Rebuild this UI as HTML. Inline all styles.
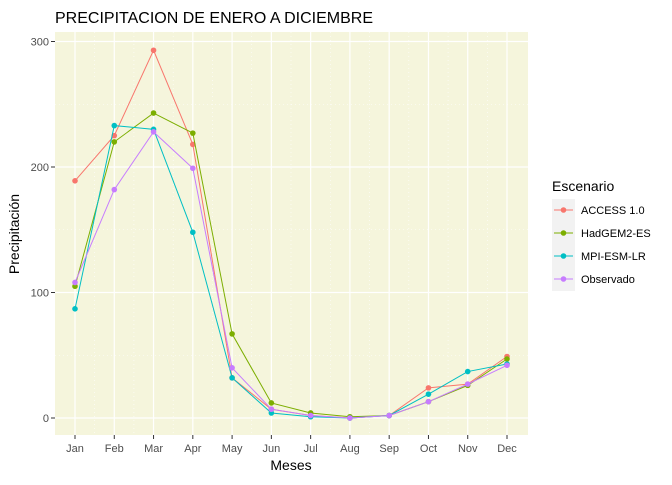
<!DOCTYPE html>
<html><head><meta charset="utf-8"><style>body{margin:0;background:#fff}svg{font-family:"Liberation Sans",sans-serif}</style></head>
<body>
<svg id="c" width="672" height="480"></svg>
<script>
const months=["Jan","Feb","Mar","Apr","May","Jun","Jul","Aug","Sep","Oct","Nov","Dec"];
const access=[189,225,293,218,32,7,2,0,2,24,27,49];
const hadgem=[105,220,243,227,67,12,4,1,2,13,26,47];
const mpi=[87,233,230,148,32,4,1,0,2,19,37,43];
const observado=[108,182,228,199,40,7,2,0,2,13,27,42];
const yTicks=[0,100,200,300];
const seriesNames=["ACCESS 1.0","HadGEM2-ES","MPI-ESM-LR","Observado"];
const colors=["#F8766D","#7CAE00","#00BFC4","#C77CFF"];
const allSeries=[access,hadgem,mpi,observado];
const NS="http://www.w3.org/2000/svg",svg=document.getElementById('c');
function mk(t,a,p){const e=document.createElementNS(NS,t);for(const k in a)e.setAttribute(k,a[k]);(p||svg).appendChild(e);return e;}
const L=55,R=528,T=32,B=435;
const x=i=>75+i*(507-75)/11;
const y=v=>418-v*1.255;
const bg=mk('rect',{x:L,y:T,width:R-L,height:B-T,fill:'#F5F5DC'});


[50,150,250].forEach(v=>mk('line',{x1:L,x2:R,y1:y(v),y2:y(v),stroke:'#fff','stroke-width':0.6,'stroke-dasharray':'1,3'}));
for(let i=0;i<11;i++)mk('line',{x1:(x(i)+x(i+1))/2,x2:(x(i)+x(i+1))/2,y1:T,y2:B,stroke:'#fff','stroke-width':0.6,'stroke-dasharray':'1,3'});
yTicks.forEach(v=>{mk('line',{x1:L,x2:R,y1:y(v),y2:y(v),stroke:'#fff','stroke-width':1.2});
const t=mk('text',{x:49,y:y(v)+4,'text-anchor':'end','font-size':11,fill:'#4d4d4d'});t.textContent=v;


mk('line',{x1:51,x2:55,y1:y(v),y2:y(v),stroke:'#333'});});
months.forEach((m,i)=>{mk('line',{x1:x(i),x2:x(i),y1:T,y2:B,stroke:'#fff','stroke-width':1.2});
mk('line',{x1:x(i),x2:x(i),y1:B,y2:B+4,stroke:'#333'});
const t=mk('text',{x:x(i),y:452,'text-anchor':'middle','font-size':11,fill:'#4d4d4d'});t.textContent=m;

});
allSeries.forEach((s,k)=>{const g=mk('g',{});


mk('polyline',{points:s.map((v,i)=>x(i)+','+y(v)).join(' '),fill:'none',stroke:colors[k],'stroke-width':1},g);
s.forEach((v,i)=>{const c=mk('circle',{cx:x(i),cy:y(v),r:2.8,fill:colors[k]},g);

});});
const title=mk('text',{x:55,y:23,'font-size':16,fill:'#000'});title.textContent='PRECIPITACION DE ENERO A DICIEMBRE';


const xt=mk('text',{x:291,y:470,'text-anchor':'middle','font-size':14});xt.textContent='Meses';


const yt=mk('text',{x:19,y:234,'text-anchor':'middle','font-size':14,transform:'rotate(-90 19 234)'});yt.textContent='Precipitación';


const lt=mk('text',{x:552,y:191,'font-size':14});lt.textContent='Escenario';


seriesNames.forEach((n,k)=>{const yy=210+k*23;const g=mk('g',{});


mk('rect',{x:552,y:yy-11,width:23,height:23,fill:'#f2f2f2'},g);
mk('line',{x1:554,x2:573,y1:yy,y2:yy,stroke:colors[k]},g);
mk('circle',{cx:563.5,cy:yy,r:2.8,fill:colors[k]},g);
const t=mk('text',{x:581,y:yy+4,'font-size':11},g);t.textContent=n;});
</script>
</body></html>
